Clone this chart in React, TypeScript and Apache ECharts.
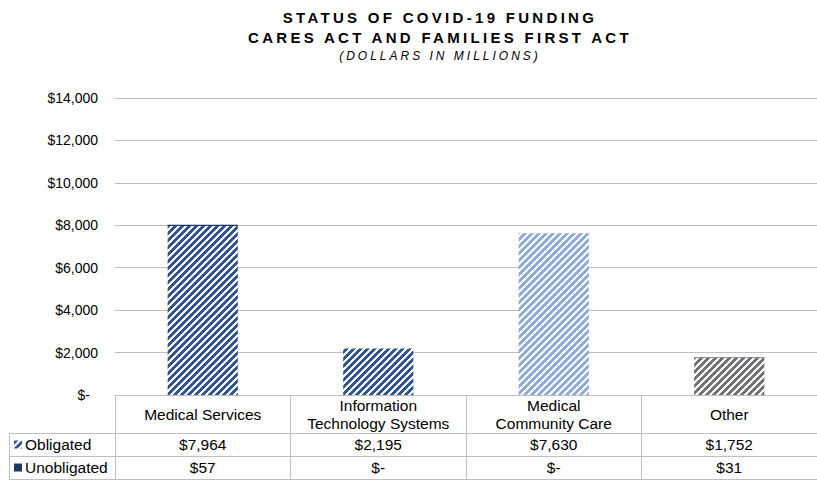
import React, { useEffect, useRef } from 'react';
import * as echarts from 'echarts';

// ---- data ----
const categories = ['Medical Services', 'Information\nTechnology Systems', 'Medical\nCommunity Care', 'Other'];
const seriesNames = ['Obligated', 'Unobligated'];
const obligated = [7964, 2195, 7630, 1752];
const unobligated = [57, 0, 0, 31];
const yMin = 0;
const yMax = 14000;
const yInterval = 2000;
const titleLines = ['STATUS OF COVID-19 FUNDING', 'CARES ACT AND FAMILIES FIRST ACT'];
const subtitle = '(DOLLARS IN MILLIONS)';

// ---- styles ----
const obligatedColors = ['#2F5597', '#2F5597', '#8FAADC', '#767171'];
const unobligatedColor = '#203864';
const lineColor = '#bfbfbf';
const W = 817;
const H = 486;
const GRID_LEFT = 115;
const GRID_TOP = 98;
const PLOT_BOTTOM = 395;
const HEADER_H = 38;
const ROW_H = 23;
const TABLE_LEFT = 9;
const FONT = 'Arial';
const TABLE_FONT_SIZE = 15.5;

function money(v: number): string {
  return v === 0 ? '$-' : '$' + v.toLocaleString('en-US');
}

function hatch(color: string) {
  const n = 7;
  const on = 4;
  const c = document.createElement('canvas');
  c.width = n;
  c.height = n;
  const ctx = c.getContext('2d')!;
  ctx.fillStyle = '#ffffff';
  ctx.fillRect(0, 0, n, n);
  ctx.fillStyle = color;
  for (let y = 0; y < n; y++) {
    for (let x = 0; x < n; x++) {
      if ((x + y) % n < on) ctx.fillRect(x, y, 1, 1);
    }
  }
  return { image: c, repeat: 'repeat', imageWidth: n, imageHeight: n } as any;
}

export default function App() {
  const ref = useRef<HTMLDivElement>(null);

  useEffect(() => {
    if (!ref.current) return;
    const chart = echarts.init(ref.current, null, { renderer: 'svg' });
    const tableBottom = PLOT_BOTTOM + HEADER_H + 2 * ROW_H;
    const rowLines = [PLOT_BOTTOM + HEADER_H, PLOT_BOTTOM + HEADER_H + ROW_H, tableBottom];

    const tableLabel = { fontFamily: FONT, fontSize: TABLE_FONT_SIZE, color: '#000' };

    const option: any = {
      animation: false,
      textStyle: { fontFamily: FONT },
      graphic: [
        {
          type: 'text',
          silent: true,
          style: {
            x: 440,
            y: 7,
            text: titleLines.join('\n'),
            font: "bold 15px 'Liberation Sans'",
            fill: '#000',
            textAlign: 'center',
            lineHeight: 20,
          },
        },
        {
          type: 'text',
          silent: true,
          style: {
            x: 440,
            y: 50,
            text: subtitle,
            font: "italic 12px 'Liberation Sans'",
            fill: '#000',
            textAlign: 'center',
          },
        },
        ...rowLines.map((y) => ({
          type: 'line',
          silent: true,
          shape: { x1: TABLE_LEFT, y1: y + 0.5, x2: W, y2: y + 0.5 },
          style: { stroke: lineColor, lineWidth: 1 },
        })),
        {
          type: 'line',
          silent: true,
          shape: { x1: TABLE_LEFT + 0.5, y1: rowLines[0], x2: TABLE_LEFT + 0.5, y2: tableBottom },
          style: { stroke: lineColor, lineWidth: 1 },
        },
      ],
      legend: {
        orient: 'vertical',
        left: 14,
        top: PLOT_BOTTOM + HEADER_H + ROW_H / 2 - 8,
        padding: 0,
        itemWidth: 8,
        itemHeight: 8,
        itemGap: 7,
        icon: 'rect',
        data: seriesNames,
        selectedMode: false,
        textStyle: { fontFamily: FONT, fontSize: TABLE_FONT_SIZE, color: '#000', padding: [0, 0, 0, -2] },
      },
      grid: { left: GRID_LEFT, right: 0, top: GRID_TOP, bottom: H - PLOT_BOTTOM, containLabel: false },
      xAxis: [
        {
          type: 'category',
          data: categories,
          axisLine: { show: true, lineStyle: { color: lineColor } },
          axisTick: { show: true, length: HEADER_H + 2 * ROW_H, interval: 0, lineStyle: { color: lineColor } },
          axisLabel: { ...tableLabel, interval: 0, margin: HEADER_H / 2, verticalAlign: 'middle', lineHeight: 18 },
        },
        {
          type: 'category',
          position: 'bottom',
          data: obligated.map(money),
          axisLine: { show: false },
          axisTick: { show: false },
          axisLabel: { ...tableLabel, interval: 0, margin: HEADER_H + ROW_H / 2, verticalAlign: 'middle' },
        },
        {
          type: 'category',
          position: 'bottom',
          data: unobligated.map(money),
          axisLine: { show: false },
          axisTick: { show: false },
          axisLabel: { ...tableLabel, interval: 0, margin: HEADER_H + ROW_H * 1.5, verticalAlign: 'middle' },
        },
      ],
      yAxis: {
        type: 'value',
        min: yMin,
        max: yMax,
        interval: yInterval,
        axisLine: { show: false },
        axisTick: { show: false },
        splitLine: { lineStyle: { color: lineColor } },
        axisLabel: {
          fontFamily: FONT,
          fontSize: 14,
          color: '#000',
          margin: 17,
          formatter: (v: number) => (v === 0 ? '{z|$-}' : money(v)),
          rich: { z: { fontFamily: FONT, fontSize: 14, color: '#000', padding: [0, 8, 0, 0] } },
        },
      },
      series: [
        {
          name: seriesNames[0],
          type: 'bar',
          stack: 'total',
          barWidth: '40%',
          itemStyle: { color: hatch(obligatedColors[0]) },
          emphasis: { disabled: true },
          data: obligated.map((v, i) => ({ value: v, itemStyle: { color: hatch(obligatedColors[i]) } })),
        },
        {
          name: seriesNames[1],
          type: 'bar',
          stack: 'total',
          barWidth: '40%',
          itemStyle: { color: unobligatedColor },
          emphasis: { disabled: true },
          data: unobligated,
        },
      ],
    };
    chart.setOption(option);
    return () => chart.dispose();
  }, []);

  return (
    <>
      <style>{`
        .covid-chart text[style*="Liberation Sans"][style*="bold"] { letter-spacing: 3.3px; }
        .covid-chart text[style*="Liberation Sans"][style*="italic"] { letter-spacing: 3px; }
      `}</style>
      <div
        ref={ref}
        className="covid-chart"
        style={{ position: 'fixed', left: 0, top: 0, width: W, height: H, background: '#fff' }}
      />
    </>
  );
}
